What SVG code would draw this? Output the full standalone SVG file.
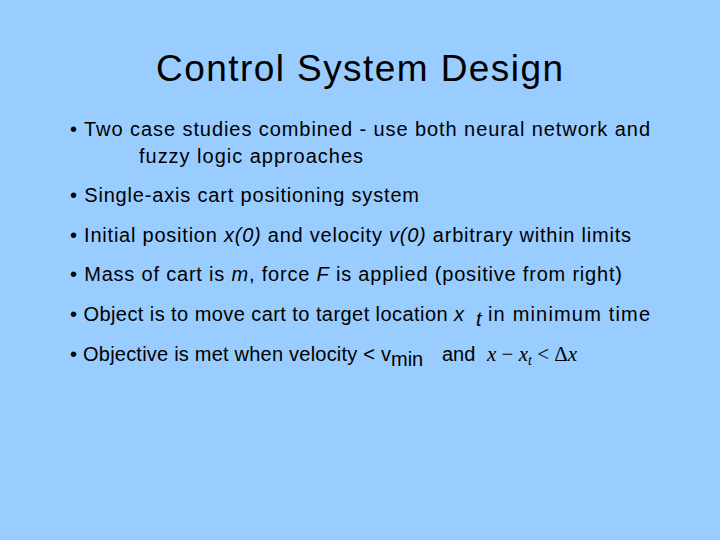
<svg xmlns="http://www.w3.org/2000/svg" width="720" height="540" viewBox="0 0 720 540">
<style>
.t{font-family:"Liberation Sans",Arial,sans-serif;font-size:20px;fill:#000}
</style>
<rect width="720" height="540" fill="#99ccff"/>
<text x="156" y="81" textLength="407" lengthAdjust="spacing" font-family="Liberation Sans,Arial,sans-serif" font-size="37" fill="#000">Control System Design</text>
<text class="t" x="70" y="136" textLength="580" lengthAdjust="spacing">• Two case studies combined - use both neural network and</text>
<text class="t" x="139" y="163" textLength="224" lengthAdjust="spacing">fuzzy logic approaches</text>
<text class="t" x="70" y="202" textLength="349" lengthAdjust="spacing">• Single-axis cart positioning system</text>
<text class="t" x="70" y="242" textLength="561" lengthAdjust="spacing">• Initial position <tspan font-style="italic">x(0)</tspan> and velocity <tspan font-style="italic">v(0)</tspan> arbitrary within limits</text>
<text class="t" x="70" y="281" textLength="552" lengthAdjust="spacing">• Mass of cart is <tspan font-style="italic">m</tspan>, force <tspan font-style="italic">F</tspan> is applied (positive from right)</text>
<text class="t" x="70" y="321" textLength="394" lengthAdjust="spacing">• Object is to move cart to target location <tspan font-style="italic">x</tspan></text>
<text class="t" x="476" y="326" font-size="13" font-style="italic">t</text>
<text class="t" x="488" y="321" textLength="162" lengthAdjust="spacing">in minimum time</text>
<text class="t" x="70" y="361" textLength="321" lengthAdjust="spacing">• Objective is met when velocity &lt; v</text>
<text class="t" x="391" y="366" font-size="14">min</text>
<text class="t" x="442" y="361">and</text>
<text x="487" y="361" font-family="Liberation Serif,Times New Roman,serif" font-size="21"><tspan font-style="italic">x</tspan> − <tspan font-style="italic">x</tspan><tspan font-style="italic" font-size="14" dy="4">t</tspan><tspan dy="-4"> &lt; Δ</tspan><tspan font-style="italic">x</tspan></text>
</svg>
